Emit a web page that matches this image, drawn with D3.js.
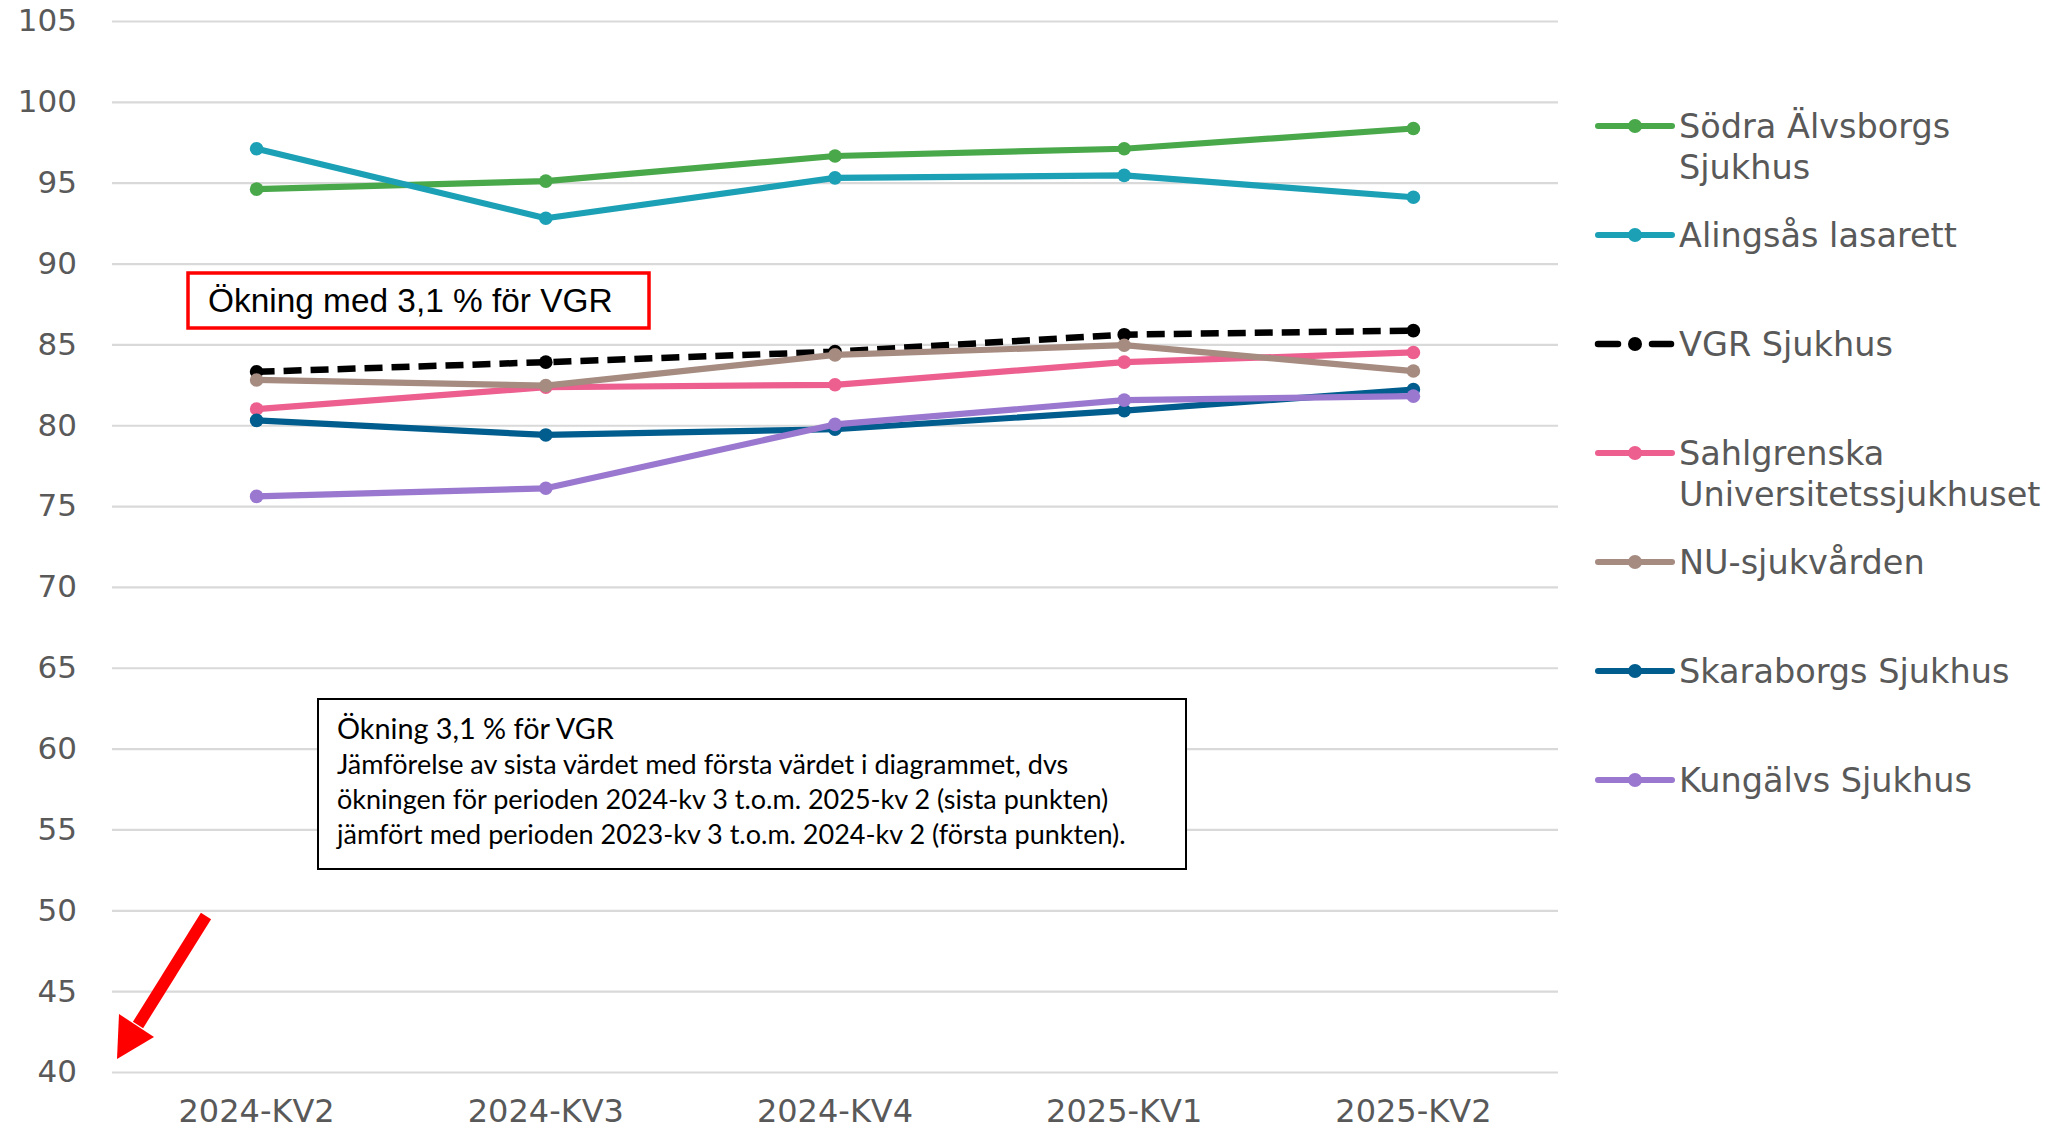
<!DOCTYPE html>
<html>
<head>
<meta charset="utf-8">
<script src="https://cdn.jsdelivr.net/npm/d3@7"></script>
<style>
  html, body { margin: 0; padding: 0; background: #fff; }
  svg { display: block; }
</style>
</head>
<body>
<div id="chart"></div>
<script>
// Data.
var quarters = ['2024-KV2', '2024-KV3', '2024-KV4', '2025-KV1', '2025-KV2'];
var yTicks = [40, 45, 50, 55, 60, 65, 70, 75, 80, 85, 90, 95, 100, 105];

var sodraAlvsborg = [94.6, 95.1, 96.65, 97.1, 98.35];
var alingsas = [97.1, 92.8, 95.3, 95.45, 94.1];
var vgrSjukhus = [83.3, 83.9, 84.55, 85.6, 85.85];
var sahlgrenska = [81.0, 82.35, 82.5, 83.9, 84.5];
var nuSjukvarden = [82.8, 82.45, 84.35, 84.95, 83.35];
var skaraborg = [80.3, 79.4, 79.75, 80.9, 82.2];
var kungalv = [75.6, 76.1, 80.05, 81.55, 81.8];

var seriesNames = [
  ['Södra Älvsborgs', 'Sjukhus'],
  ['Alingsås lasarett'],
  ['VGR Sjukhus'],
  ['Sahlgrenska', 'Universitetssjukhuset'],
  ['NU-sjukvården'],
  ['Skaraborgs Sjukhus'],
  ['Kungälvs Sjukhus']
];
var seriesValues = [sodraAlvsborg, alingsas, vgrSjukhus, sahlgrenska, nuSjukvarden, skaraborg, kungalv];
var seriesColors = ['#49a84a', '#1ba0b5', '#000000', '#ec5f8e', '#a58b80', '#005d8d', '#9a78cf'];
var dashedSeries = [false, false, true, false, false, false, false];

var width = 2067, height = 1132;
var plot = {left: 112, right: 1558, top: 21, bottom: 1072};

var svg = d3.select('#chart')
            .append('svg')
            .attr('width', width)
            .attr('height', height);

var x = d3.scaleBand()
          .domain(quarters)
          .range([plot.left, plot.right]);
var y = d3.scaleLinear()
          .domain([40, 105])
          .range([plot.bottom, plot.top]);

function cx(q) { return x(q) + x.bandwidth() / 2; }

// Gridlines and y tick labels.
var yAxis = svg.append('g')
               .attr('transform', 'translate(' + plot.left + ',0)')
               .call(d3.axisLeft(y)
                       .tickValues(yTicks)
                       .tickSize(-(plot.right - plot.left))
                       .tickPadding(35)
                       .tickFormat(d3.format('d')));
yAxis.select('.domain').remove();
yAxis.selectAll('.tick line')
     .attr('stroke', '#d9d9d9')
     .attr('stroke-width', 2.2);
yAxis.selectAll('.tick text')
     .attr('fill', '#595959')
     .style('font-family', '"DejaVu Sans", Verdana, sans-serif')
     .style('font-size', '31px');

// X labels.
var xAxis = svg.append('g')
               .attr('transform', 'translate(0,' + plot.bottom + ')')
               .call(d3.axisBottom(x).tickSize(0).tickPadding(27));
xAxis.select('.domain').remove();
xAxis.selectAll('.tick text')
     .attr('fill', '#595959')
     .style('font-family', '"DejaVu Sans", Verdana, sans-serif')
     .style('font-size', '32px');

// Lines and markers.
var line = d3.line()
             .x(function(d, i) { return cx(quarters[i]); })
             .y(function(d) { return y(d); });

seriesValues.forEach(function(values, s) {
  var g = svg.append('g').attr('class', 'series');
  g.append('path')
   .datum(values)
   .attr('d', line)
   .attr('fill', 'none')
   .attr('stroke', seriesColors[s])
   .attr('stroke-width', dashedSeries[s] ? 6.5 : 6.2)
   .attr('stroke-linejoin', 'round')
   .attr('stroke-linecap', dashedSeries[s] ? 'butt' : 'round')
   .attr('stroke-dasharray', dashedSeries[s] ? '18,9' : null);
  g.selectAll('circle')
   .data(values)
   .enter()
   .append('circle')
   .attr('cx', function(d, i) { return cx(quarters[i]); })
   .attr('cy', function(d) { return y(d); })
   .attr('r', 6.8)
   .attr('fill', seriesColors[s]);
});

// Legend.
var legend = svg.append('g').attr('transform', 'translate(1598,126)');
seriesNames.forEach(function(name, s) {
  var g = legend.append('g').attr('transform', 'translate(0,' + (s * 109) + ')');
  if (dashedSeries[s]) {
    g.append('line').attr('x1', 0).attr('x2', 20).attr('y1', 0).attr('y2', 0)
     .attr('stroke', seriesColors[s]).attr('stroke-width', 6.5).attr('stroke-linecap', 'round');
    g.append('line').attr('x1', 54).attr('x2', 73).attr('y1', 0).attr('y2', 0)
     .attr('stroke', seriesColors[s]).attr('stroke-width', 6.5).attr('stroke-linecap', 'round');
  } else {
    g.append('line').attr('x1', 0).attr('x2', 74).attr('y1', 0).attr('y2', 0)
     .attr('stroke', seriesColors[s]).attr('stroke-width', 6).attr('stroke-linecap', 'round');
  }
  g.append('circle').attr('cx', 37).attr('cy', 0).attr('r', 7).attr('fill', seriesColors[s]);
  var t = g.append('text')
           .attr('x', 81)
           .attr('y', 0)
           .attr('fill', '#595959')
           .style('font-family', '"DejaVu Sans", Verdana, sans-serif')
           .style('font-size', '33.5px');
  name.forEach(function(part, k) {
    t.append('tspan')
     .attr('x', 81)
     .attr('dy', k === 0 ? '0.36em' : 41)
     .text(part);
  });
});

// Red box annotation.
svg.append('rect')
   .attr('x', 188).attr('y', 273).attr('width', 461).attr('height', 55)
   .attr('fill', '#fff').attr('stroke', '#ff0000').attr('stroke-width', 3.5);
svg.append('text')
   .attr('x', 208).attr('y', 312)
   .style('font-family', '"Liberation Sans", Arial, sans-serif')
   .style('font-size', '33.4px')
   .attr('fill', '#000')
   .text('Ökning med 3,1 % för VGR');

// Explanation box.
svg.append('rect')
   .attr('x', 318).attr('y', 699).attr('width', 868).attr('height', 170)
   .attr('fill', '#fff').attr('stroke', '#000').attr('stroke-width', 2);
var note = svg.append('text')
              .style('font-family', 'Lato, "Open Sans", sans-serif')
              .attr('fill', '#000');
note.append('tspan').attr('x', 337).attr('y', 739).style('font-size', '28.8px')
    .text('Ökning 3,1 % för VGR');
[
  'Jämförelse av sista värdet med första värdet i diagrammet, dvs',
  'ökningen för perioden 2024-kv 3 t.o.m. 2025-kv 2 (sista punkten)',
  'jämfört med perioden 2023-kv 3 t.o.m. 2024-kv 2 (första punkten).'
].forEach(function(s, i) {
  note.append('tspan').attr('x', 337).attr('y', 774 + i * 35).style('font-size', '27px').text(s);
});

// Red arrow pointing at the axis bottom.
svg.append('line')
   .attr('x1', 206).attr('y1', 916).attr('x2', 138).attr('y2', 1025)
   .attr('stroke', '#ff0000').attr('stroke-width', 12);
svg.append('path')
   .attr('d', 'M117,1059 L119,1014 L154,1037 Z')
   .attr('fill', '#ff0000');
</script>
</body>
</html>
